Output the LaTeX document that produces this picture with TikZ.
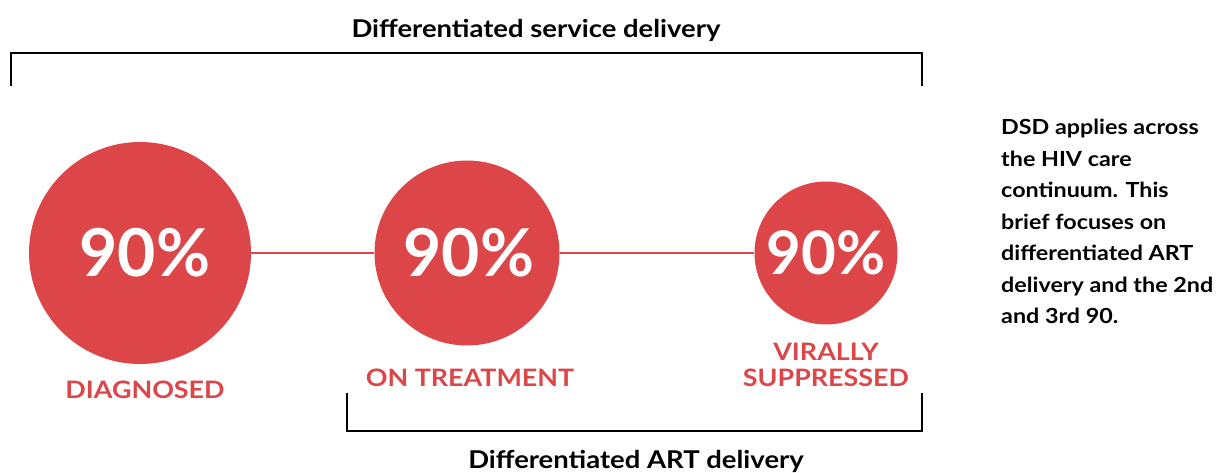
\documentclass[tikz,border=0pt]{standalone}
\usepackage{fontspec}
\setmainfont{Lato}
\newfontfamily\widelato[FakeStretch=1.12]{Lato}
\definecolor{dsdred}{RGB}{220,70,72}
\tikzset{
  x=1pt, y=-1pt,
  bigcirc/.style={circle, fill=dsdred, draw=none, inner sep=0pt},
  pct/.style={text=white, font=\fontsize{66}{66}\selectfont\bfseries, inner sep=0pt},
  lbl/.style={text=dsdred, font=\widelato\fontsize{24}{24}\selectfont\bfseries, inner sep=0pt},
  head/.style={text=black, font=\widelato\fontsize{24.5}{24.5}\selectfont\bfseries, inner sep=0pt},
  bracket/.style={draw=black, line width=2.6pt},
  link/.style={draw=dsdred, line width=2.6pt},
}
\begin{document}
\begin{tikzpicture}
\useasboundingbox (0,0) rectangle (1218,473);
% circles
\node[bigcirc, minimum size=222pt] (c1) at (140,253) {};
\node[bigcirc, minimum size=185pt] (c2) at (467,253) {};
\node[bigcirc, minimum size=143pt] (c3) at (826,253) {};
\draw[link] (c1.east) -- (c2.west);
\draw[link] (c2.east) -- (c3.west);
\node[pct] (p1) at (145,253) {90\%};
\node[pct] (p2) at (469,253) {90\%};
\node[pct, font=\fontsize{60}{60}\selectfont\bfseries] (p3) at (826,253) {90\%};
% labels
\node[lbl] (l1) at (145,390) {DIAGNOSED};
\node[lbl] (l2) at (470,378) {ON TREATMENT};
\node[lbl] (l3a) at (826,352) {VIRALLY};
\node[lbl] (l3b) at (826,378) {SUPPRESSED};
% top bracket
\coordinate (tl) at (11,86);
\coordinate (tr) at (922,86);
\draw[bracket] (tl) -- (11,53) -- (922,53) -- (tr);
\node[head] (th) at (536,30) {Differentiated service delivery};
% bottom bracket
\coordinate (bl) at (347,393);
\coordinate (br) at (922,393);
\draw[bracket] (bl) -- (347,431) -- (922,431) -- (br);
\node[head] (bh) at (636,461) {Differentiated ART delivery};
% side note
\node[anchor=north west, align=left, inner sep=0pt, font=\widelato\fontsize{20.8}{31.5}\selectfont\bfseries] (note) at (1001,119)
{DSD applies across\\the HIV care\\continuum. This\\brief focuses on\\differentiated ART\\delivery and the 2nd\\and 3rd 90.};
\end{tikzpicture}
\end{document}
